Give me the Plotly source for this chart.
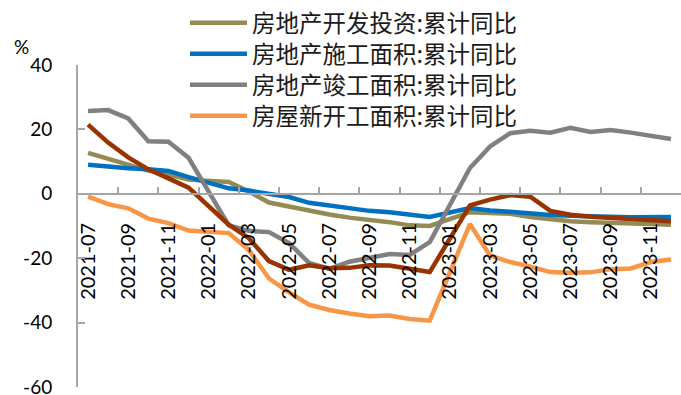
import plotly.graph_objects as go

# Monthly categories, July 2021 to December 2023 (January values are not published)
months = [
    "2021-07", "2021-08", "2021-09", "2021-10", "2021-11", "2021-12",
    "2022-01", "2022-02", "2022-03", "2022-04", "2022-05", "2022-06",
    "2022-07", "2022-08", "2022-09", "2022-10", "2022-11", "2022-12",
    "2023-01", "2023-02", "2023-03", "2023-04", "2023-05", "2023-06",
    "2023-07", "2023-08", "2023-09", "2023-10", "2023-11", "2023-12",
]

investment = [12.7, 10.9, 8.8, 7.2, 6.0, 4.4, None, 3.7, 0.7, -2.7, -4.0, -5.4,
              -6.4, -7.4, -8.0, -8.8, -9.8, -10.0, None, -5.7, -5.8, -6.2, -7.2, -7.9,
              -8.5, -8.8, -9.1, -9.3, -9.4, -9.6]
under_construction = [9.0, 8.4, 7.9, 7.6, 7.1, 5.2, None, 1.7, 1.0, 0.0, -1.0, -2.8,
                      -3.7, -4.5, -5.3, -5.7, -6.5, -7.2, None, -4.4, -5.2, -5.6, -6.2, -6.6,
                      -6.8, -7.1, -7.1, -7.3, -7.2, -7.2]
completed = [25.7, 26.0, 23.4, 16.3, 16.2, 11.2, None, -9.8, -11.5, -11.9, -15.3, -21.5,
             -23.3, -21.1, -19.9, -18.7, -19.0, -15.0, None, 8.0, 14.7, 18.8, 19.6, 19.0,
             20.5, 19.2, 19.8, 19.0, 17.9, 17.0]
new_starts = [-0.9, -3.2, -4.5, -7.7, -9.1, -11.4, None, -12.2, -17.5, -26.3, -30.6, -34.4,
              -36.1, -37.2, -38.0, -37.8, -38.9, -39.4, None, -9.4, -19.2, -21.2, -22.6, -24.3,
              -24.5, -24.4, -23.4, -23.2, -21.2, -20.4]
sales_area = [21.5, 15.9, 11.3, 7.6, 4.8, 1.9, None, -9.6, -13.8, -20.9, -23.6, -22.2,
              -23.1, -23.0, -22.2, -22.3, -23.3, -24.3, None, -3.6, -1.8, -0.4, -0.9, -5.3,
              -6.5, -7.1, -7.5, -7.8, -8.0, -8.5]

series = [
    ("房地产开发投资:累计同比", investment, "#948A54", "legend"),
    ("房地产施工面积:累计同比", under_construction, "#0070C0", "legend2"),
    ("房地产竣工面积:累计同比", completed, "#808080", "legend3"),
    ("房屋新开工面积:累计同比", new_starts, "#F79646", "legend4"),
    ("商品房销售面积:累计同比", sales_area, "#993300", None),
]

y_ticks = [-60, -40, -20, 0, 20, 40]
y_labels = [str(v) for v in y_ticks]
label_idx = list(range(0, len(months), 2))

x = list(range(len(months)))

fig = go.Figure()
for name, vals, color, leg in series:
    fig.add_trace(go.Scatter(
        x=x, y=vals, name=name, mode="lines",
        line=dict(color=color, width=4.5),
        connectgaps=True, showlegend=leg is not None,
        legend=leg or "legend",
        customdata=months, hovertemplate="%{customdata}: %{y}<extra>" + name + "</extra>",
    ))

axis_color = "#A6A6A6"
W, H = 681, 395
L, T, B = 78, 65, 8

# one single-entry legend per row so the row pitch can be set exactly
row_centers = [23, 54, 85, 116]
legend_style = dict(
    xref="container", yref="container", xanchor="left", yanchor="middle",
    font=dict(family="Noto Sans CJK SC", size=23.5, color="#1a1a1a"),
    bgcolor="rgba(0,0,0,0)", itemwidth=57,
)
legends = {}
for key, yc in zip(["legend", "legend2", "legend3", "legend4"], row_centers):
    legends[key] = dict(legend_style, x=185 / W, y=1 - yc / H)

fig.update_layout(
    width=W, height=H,
    margin=dict(l=L, r=0, t=T, b=B, autoexpand=False),
    plot_bgcolor="white", paper_bgcolor="white",
    font=dict(family="Lato", color="#000000"),
    showlegend=True,
    **legends,
    xaxis=dict(
        range=[-0.5, len(months) - 0.5],
        anchor="free", position=(0 - y_ticks[0]) / (y_ticks[-1] - y_ticks[0]),
        showline=True, linecolor=axis_color, linewidth=2,
        showgrid=False, zeroline=False,
        tickmode="array", tickvals=[x[i] for i in label_idx],
        ticktext=[months[i] for i in label_idx],
        ticks="", tickangle=-90, ticklabelstandoff=20,
        tickfont=dict(family="Lato", size=20, color="#000000"),
        minor=dict(tickmode="array", tickvals=[i + 1.5 for i in label_idx[:-1]],
                   ticks="inside", ticklen=6, tickwidth=2, tickcolor=axis_color),
    ),
    yaxis=dict(
        range=[y_ticks[0], y_ticks[-1]],
        showline=True, linecolor=axis_color, linewidth=2,
        showgrid=False, zeroline=False,
        tickmode="array", tickvals=y_ticks, ticktext=y_labels,
        ticks="inside", ticklen=7, tickwidth=2, tickcolor=axis_color,
        ticklabelstandoff=20, ticklabeloverflow="allow",
        tickfont=dict(family="Lato", size=19, color="#000000"),
    ),
    annotations=[dict(
        text="%", xref="paper", yref="paper",
        x=(21 - L) / (W - L), y=1 + (T - 46) / (H - T - B),
        xanchor="center", yanchor="middle", showarrow=False,
        font=dict(family="Lato", size=19, color="#000000"),
    )],
)

fig.write_html("out.html")
